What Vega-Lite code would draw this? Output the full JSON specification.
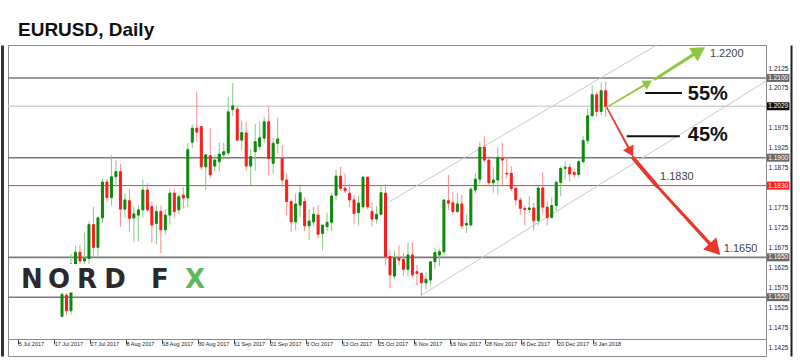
{
"$schema":"https://vega.github.io/schema/vega-lite/v6.json",
"width":758,"height":311,
"autosize":{"type":"none"},
"padding":{"left":8,"top":45,"right":34,"bottom":5},
"background":"#ffffff",
"title":{"text":"EURUSD, Daily","anchor":"start","frame":"group","fontSize":19,"font":"Liberation Sans","fontWeight":"bold","color":"#111111","offset":5,"dx":10},
"config":{"view":{"stroke":"#8a8a8a","strokeWidth":1},"axis":{"grid":false},"scale":{"continuousPadding":0},"font":"Liberation Sans"},
"datasets":{
"candles":[
{"date":"2017-07-18","i":9,"o":1.1502,"h":1.1565,"l":1.1500,"c":1.1557},
{"date":"2017-07-19","i":10,"o":1.1555,"h":1.1560,"l":1.1506,"c":1.1516},
{"date":"2017-07-20","i":11,"o":1.1516,"h":1.1658,"l":1.1506,"c":1.1633},
{"date":"2017-07-21","i":12,"o":1.1633,"h":1.1678,"l":1.1625,"c":1.1663},
{"date":"2017-07-24","i":13,"o":1.1663,"h":1.1682,"l":1.1624,"c":1.1641},
{"date":"2017-07-25","i":14,"o":1.1641,"h":1.1712,"l":1.1618,"c":1.1647},
{"date":"2017-07-26","i":15,"o":1.1647,"h":1.1740,"l":1.1634,"c":1.1732},
{"date":"2017-07-27","i":16,"o":1.1732,"h":1.1777,"l":1.1653,"c":1.1675},
{"date":"2017-07-28","i":17,"o":1.1675,"h":1.1752,"l":1.1650,"c":1.1749},
{"date":"2017-07-31","i":18,"o":1.1749,"h":1.1847,"l":1.1737,"c":1.1839},
{"date":"2017-08-01","i":19,"o":1.1839,"h":1.1846,"l":1.1789,"c":1.1800},
{"date":"2017-08-02","i":20,"o":1.1800,"h":1.1906,"l":1.1780,"c":1.1852},
{"date":"2017-08-03","i":21,"o":1.1852,"h":1.1893,"l":1.1826,"c":1.1865},
{"date":"2017-08-04","i":22,"o":1.1865,"h":1.1884,"l":1.1726,"c":1.1771},
{"date":"2017-08-07","i":23,"o":1.1771,"h":1.1810,"l":1.1750,"c":1.1794},
{"date":"2017-08-08","i":24,"o":1.1792,"h":1.1822,"l":1.1713,"c":1.1748},
{"date":"2017-08-09","i":25,"o":1.1749,"h":1.1778,"l":1.1688,"c":1.1759},
{"date":"2017-08-10","i":26,"o":1.1756,"h":1.1781,"l":1.1690,"c":1.1769},
{"date":"2017-08-11","i":27,"o":1.1769,"h":1.1845,"l":1.1750,"c":1.1819},
{"date":"2017-08-14","i":28,"o":1.1819,"h":1.1836,"l":1.1765,"c":1.1769},
{"date":"2017-08-15","i":29,"o":1.1777,"h":1.1790,"l":1.1686,"c":1.1731},
{"date":"2017-08-16","i":30,"o":1.1735,"h":1.1780,"l":1.1683,"c":1.1765},
{"date":"2017-08-17","i":31,"o":1.1765,"h":1.1780,"l":1.1661,"c":1.1719},
{"date":"2017-08-18","i":32,"o":1.1719,"h":1.1771,"l":1.1708,"c":1.1756},
{"date":"2017-08-21","i":33,"o":1.1756,"h":1.1823,"l":1.1732,"c":1.1811},
{"date":"2017-08-22","i":34,"o":1.1811,"h":1.1822,"l":1.1750,"c":1.1765},
{"date":"2017-08-23","i":35,"o":1.1769,"h":1.1810,"l":1.1758,"c":1.1802},
{"date":"2017-08-24","i":36,"o":1.1806,"h":1.1826,"l":1.1772,"c":1.1799},
{"date":"2017-08-25","i":37,"o":1.1799,"h":1.1937,"l":1.1776,"c":1.1920},
{"date":"2017-08-28","i":38,"o":1.1939,"h":1.1983,"l":1.1925,"c":1.1974},
{"date":"2017-08-29","i":39,"o":1.1974,"h":1.2066,"l":1.1940,"c":1.1964},
{"date":"2017-08-30","i":40,"o":1.1978,"h":1.1980,"l":1.1870,"c":1.1877},
{"date":"2017-08-31","i":41,"o":1.1877,"h":1.1910,"l":1.1819,"c":1.1907},
{"date":"2017-09-01","i":42,"o":1.1905,"h":1.1974,"l":1.1849,"c":1.1857},
{"date":"2017-09-04","i":43,"o":1.1879,"h":1.1907,"l":1.1866,"c":1.1894},
{"date":"2017-09-05","i":44,"o":1.1890,"h":1.1938,"l":1.1866,"c":1.1909},
{"date":"2017-09-06","i":45,"o":1.1907,"h":1.1937,"l":1.1895,"c":1.1915},
{"date":"2017-09-07","i":46,"o":1.1912,"h":1.2053,"l":1.1905,"c":1.2015},
{"date":"2017-09-08","i":47,"o":1.2021,"h":1.2087,"l":1.2004,"c":1.2030},
{"date":"2017-09-11","i":48,"o":1.2022,"h":1.2030,"l":1.1940,"c":1.1944},
{"date":"2017-09-12","i":49,"o":1.1944,"h":1.1993,"l":1.1919,"c":1.1963},
{"date":"2017-09-13","i":50,"o":1.1962,"h":1.1990,"l":1.1868,"c":1.1879},
{"date":"2017-09-14","i":51,"o":1.1879,"h":1.1922,"l":1.1831,"c":1.1903},
{"date":"2017-09-15","i":52,"o":1.1915,"h":1.1985,"l":1.1867,"c":1.1940},
{"date":"2017-09-18","i":53,"o":1.1928,"h":1.1990,"l":1.1919,"c":1.1950},
{"date":"2017-09-19","i":54,"o":1.1949,"h":1.2003,"l":1.1938,"c":1.1990},
{"date":"2017-09-20","i":55,"o":1.1990,"h":1.2028,"l":1.1857,"c":1.1898},
{"date":"2017-09-21","i":56,"o":1.1886,"h":1.1949,"l":1.1861,"c":1.1936},
{"date":"2017-09-22","i":57,"o":1.1936,"h":1.2000,"l":1.1910,"c":1.1947},
{"date":"2017-09-25","i":58,"o":1.1898,"h":1.1932,"l":1.1827,"c":1.1844},
{"date":"2017-09-26","i":59,"o":1.1844,"h":1.1860,"l":1.1756,"c":1.1790},
{"date":"2017-09-27","i":60,"o":1.1790,"h":1.1795,"l":1.1714,"c":1.1739},
{"date":"2017-09-28","i":61,"o":1.1739,"h":1.1810,"l":1.1718,"c":1.1784},
{"date":"2017-09-29","i":62,"o":1.1781,"h":1.1829,"l":1.1752,"c":1.1812},
{"date":"2017-10-02","i":63,"o":1.1790,"h":1.1800,"l":1.1716,"c":1.1729},
{"date":"2017-10-03","i":64,"o":1.1729,"h":1.1771,"l":1.1694,"c":1.1741},
{"date":"2017-10-04","i":65,"o":1.1739,"h":1.1777,"l":1.1729,"c":1.1758},
{"date":"2017-10-05","i":66,"o":1.1756,"h":1.1780,"l":1.1697,"c":1.1708},
{"date":"2017-10-06","i":67,"o":1.1710,"h":1.1731,"l":1.1668,"c":1.1731},
{"date":"2017-10-09","i":68,"o":1.1727,"h":1.1762,"l":1.1715,"c":1.1738},
{"date":"2017-10-10","i":69,"o":1.1738,"h":1.1810,"l":1.1716,"c":1.1804},
{"date":"2017-10-11","i":70,"o":1.1806,"h":1.1869,"l":1.1794,"c":1.1854},
{"date":"2017-10-12","i":71,"o":1.1854,"h":1.1877,"l":1.1817,"c":1.1823},
{"date":"2017-10-13","i":72,"o":1.1823,"h":1.1860,"l":1.1811,"c":1.1817},
{"date":"2017-10-16","i":73,"o":1.1811,"h":1.1835,"l":1.1776,"c":1.1794},
{"date":"2017-10-17","i":74,"o":1.1794,"h":1.1807,"l":1.1733,"c":1.1760},
{"date":"2017-10-18","i":75,"o":1.1762,"h":1.1804,"l":1.1730,"c":1.1786},
{"date":"2017-10-19","i":76,"o":1.1777,"h":1.1854,"l":1.1772,"c":1.1851},
{"date":"2017-10-20","i":77,"o":1.1851,"h":1.1852,"l":1.1771,"c":1.1777},
{"date":"2017-10-23","i":78,"o":1.1765,"h":1.1789,"l":1.1728,"c":1.1746},
{"date":"2017-10-24","i":79,"o":1.1746,"h":1.1779,"l":1.1735,"c":1.1758},
{"date":"2017-10-25","i":80,"o":1.1758,"h":1.1830,"l":1.1755,"c":1.1812},
{"date":"2017-10-26","i":81,"o":1.1811,"h":1.1834,"l":1.1630,"c":1.1652},
{"date":"2017-10-27","i":82,"o":1.1652,"h":1.1668,"l":1.1572,"c":1.1606},
{"date":"2017-10-30","i":83,"o":1.1603,"h":1.1667,"l":1.1595,"c":1.1648},
{"date":"2017-10-31","i":84,"o":1.1648,"h":1.1680,"l":1.1630,"c":1.1643},
{"date":"2017-11-01","i":85,"o":1.1645,"h":1.1660,"l":1.1604,"c":1.1620},
{"date":"2017-11-02","i":86,"o":1.1620,"h":1.1687,"l":1.1603,"c":1.1656},
{"date":"2017-11-03","i":87,"o":1.1656,"h":1.1687,"l":1.1600,"c":1.1606},
{"date":"2017-11-06","i":88,"o":1.1614,"h":1.1630,"l":1.1580,"c":1.1610},
{"date":"2017-11-07","i":89,"o":1.1610,"h":1.1612,"l":1.1551,"c":1.1586},
{"date":"2017-11-08","i":90,"o":1.1586,"h":1.1613,"l":1.1570,"c":1.1595},
{"date":"2017-11-09","i":91,"o":1.1593,"h":1.1640,"l":1.1580,"c":1.1639},
{"date":"2017-11-10","i":92,"o":1.1639,"h":1.1673,"l":1.1620,"c":1.1662},
{"date":"2017-11-13","i":93,"o":1.1656,"h":1.1672,"l":1.1628,"c":1.1664},
{"date":"2017-11-14","i":94,"o":1.1664,"h":1.1794,"l":1.1655,"c":1.1794},
{"date":"2017-11-15","i":95,"o":1.1792,"h":1.1857,"l":1.1769,"c":1.1786},
{"date":"2017-11-16","i":96,"o":1.1787,"h":1.1813,"l":1.1755,"c":1.1765},
{"date":"2017-11-17","i":97,"o":1.1765,"h":1.1811,"l":1.1760,"c":1.1784},
{"date":"2017-11-20","i":98,"o":1.1784,"h":1.1808,"l":1.1721,"c":1.1729},
{"date":"2017-11-21","i":99,"o":1.1731,"h":1.1759,"l":1.1711,"c":1.1735},
{"date":"2017-11-22","i":100,"o":1.1731,"h":1.1827,"l":1.1730,"c":1.1821},
{"date":"2017-11-23","i":101,"o":1.1819,"h":1.1860,"l":1.1810,"c":1.1846},
{"date":"2017-11-24","i":102,"o":1.1846,"h":1.1940,"l":1.1835,"c":1.1926},
{"date":"2017-11-27","i":103,"o":1.1926,"h":1.1954,"l":1.1889,"c":1.1894},
{"date":"2017-11-28","i":104,"o":1.1894,"h":1.1904,"l":1.1828,"c":1.1837},
{"date":"2017-11-29","i":105,"o":1.1837,"h":1.1876,"l":1.1812,"c":1.1844},
{"date":"2017-11-30","i":106,"o":1.1844,"h":1.1926,"l":1.1807,"c":1.1901},
{"date":"2017-12-01","i":107,"o":1.1898,"h":1.1938,"l":1.1831,"c":1.1894},
{"date":"2017-12-04","i":108,"o":1.1861,"h":1.1902,"l":1.1847,"c":1.1859},
{"date":"2017-12-05","i":109,"o":1.1861,"h":1.1879,"l":1.1816,"c":1.1823},
{"date":"2017-12-06","i":110,"o":1.1823,"h":1.1832,"l":1.1781,"c":1.1794},
{"date":"2017-12-07","i":111,"o":1.1794,"h":1.1800,"l":1.1757,"c":1.1773},
{"date":"2017-12-08","i":112,"o":1.1773,"h":1.1780,"l":1.1730,"c":1.1770},
{"date":"2017-12-11","i":113,"o":1.1770,"h":1.1803,"l":1.1760,"c":1.1774},
{"date":"2017-12-12","i":114,"o":1.1774,"h":1.1787,"l":1.1717,"c":1.1742},
{"date":"2017-12-13","i":115,"o":1.1742,"h":1.1828,"l":1.1730,"c":1.1824},
{"date":"2017-12-14","i":116,"o":1.1824,"h":1.1863,"l":1.1760,"c":1.1776},
{"date":"2017-12-15","i":117,"o":1.1776,"h":1.1790,"l":1.1729,"c":1.1750},
{"date":"2017-12-18","i":118,"o":1.1750,"h":1.1800,"l":1.1747,"c":1.1780},
{"date":"2017-12-19","i":119,"o":1.1780,"h":1.1844,"l":1.1767,"c":1.1838},
{"date":"2017-12-20","i":120,"o":1.1838,"h":1.1878,"l":1.1803,"c":1.1873},
{"date":"2017-12-21","i":121,"o":1.1873,"h":1.1891,"l":1.1845,"c":1.1876},
{"date":"2017-12-22","i":122,"o":1.1876,"h":1.1885,"l":1.1840,"c":1.1859},
{"date":"2017-12-26","i":123,"o":1.1863,"h":1.1873,"l":1.1850,"c":1.1858},
{"date":"2017-12-27","i":124,"o":1.1858,"h":1.1895,"l":1.1850,"c":1.1890},
{"date":"2017-12-28","i":125,"o":1.1890,"h":1.1955,"l":1.1885,"c":1.1943},
{"date":"2017-12-29","i":126,"o":1.1943,"h":1.2023,"l":1.1935,"c":1.2005},
{"date":"2018-01-02","i":127,"o":1.2005,"h":1.2081,"l":1.2004,"c":1.2058},
{"date":"2018-01-03","i":128,"o":1.2058,"h":1.2065,"l":1.2002,"c":1.2016},
{"date":"2018-01-04","i":129,"o":1.2016,"h":1.2088,"l":1.2006,"c":1.2068},
{"date":"2018-01-05","i":130,"o":1.2068,"h":1.2090,"l":1.2003,"c":1.2029}
],
"levels":[
{"p":1.2100,"kind":"level"},
{"p":1.2029,"kind":"current"},
{"p":1.1900,"kind":"level"},
{"p":1.1830,"kind":"target"},
{"p":1.1650,"kind":"level"},
{"p":1.1550,"kind":"level"}
],
"channels":[
{"ln":"upper","i":81.78,"p":1.17888},
{"ln":"upper","i":142.54,"p":1.21902},
{"ln":"lower","i":89.06,"p":1.15555},
{"ln":"lower","i":165.69,"p":1.20919}
],
"shafts":[
{"arrow":"g1","part":"t1","i":130.3,"p":1.2027},
{"arrow":"g1","part":"h1","i":138.87,"p":1.20839},
{"arrow":"g2","part":"t2","i":141.0,"p":1.2097},
{"arrow":"g2","part":"h2","i":149.95,"p":1.21616},
{"arrow":"r1","part":"t1","i":130.3,"p":1.2025},
{"arrow":"r1","part":"h1","i":135.22,"p":1.19223},
{"arrow":"rc","part":"c","i":136.12,"p":1.18992},
{"arrow":"rc","part":"c","i":141.43,"p":1.1829},
{"arrow":"r2","part":"t2","i":141.43,"p":1.1829},
{"arrow":"r2","part":"h2","i":153.55,"p":1.16797}
],
"heads":[
{"arrow":"g1","i":139.43,"p":1.20876},
{"arrow":"g2","i":150.82,"p":1.21677},
{"arrow":"r1","i":135.58,"p":1.19145},
{"arrow":"r2","i":154.33,"p":1.16702}
],
"notes":[
{"t":"1.2200","i":153.2,"p":1.2161,"kind":"price"},
{"t":"55%","i":148.3,"p":1.2060,"kind":"pct"},
{"t":"45%","i":148.3,"p":1.1957,"kind":"pct"},
{"t":"1.1830","i":142.1,"p":1.1852,"kind":"price"},
{"t":"1.1650","i":156.3,"p":1.1671,"kind":"price"}
],
"pointers":[
{"i":138.8,"i2":147.0,"p":1.2062},
{"i":134.7,"i2":146.5,"p":1.1954}
],
"logo":[
{"ch":"N","i":2.32,"p":1.1593},
{"ch":"O","i":8.33,"p":1.1593},
{"ch":"R","i":14.56,"p":1.1593},
{"ch":"D","i":20.8,"p":1.1593},
{"ch":"F","i":30.8,"p":1.1593},
{"ch":"X","i":38.6,"p":1.1593}
]
},
"resolve":{"axis":{"x":"independent","y":"independent"},"scale":{"color":"independent","size":"independent","strokeWidth":"independent"}},
"layer":[
{
"data":{"name":"levels"},
"mark":{"type":"rule"},
"encoding":{
"y":{"field":"p","type":"quantitative","scale":{"domain":[1.14025,1.21827],"nice":false,"zero":false,"padding":0},"axis":{"orient":"left","offset":6,"labels":false,"ticks":false,"title":null,"domainColor":"#333333","domainWidth":3}},
"color":{"field":"kind","type":"nominal","scale":{"domain":["level","current","target"],"range":["#7a7a7a","#d2d2d2","#ff3333"]},"legend":null},
"strokeWidth":{"field":"kind","type":"nominal","scale":{"domain":["level","current","target"],"range":[1.6,1,2]},"legend":null}
}
},
{
"data":{"name":"channels"},
"mark":{"type":"line","clip":true,"color":"#c8c8c8","strokeWidth":1},
"encoding":{
"x":{"field":"i","type":"quantitative","axis":null},
"y":{"field":"p","type":"quantitative","axis":null},
"detail":{"field":"ln"}
}
},
{
"data":{"name":"candles"},
"mark":{"type":"rule","strokeWidth":1},
"encoding":{
"x":{"field":"i","type":"quantitative","axis":null},
"y":{"field":"l","type":"quantitative","axis":null},
"y2":{"field":"h"},
"color":{"condition":{"test":"datum.c >= datum.o","value":"#86c986"},"value":"#ff8a8a"}
}
},
{
"data":{"name":"candles"},
"mark":{"type":"bar","width":2,"strokeWidth":1},
"encoding":{
"x":{"field":"i","type":"quantitative","scale":{"domain":[-3.019,165.69],"nice":false,"zero":false,"padding":0},
"axis":{"orient":"bottom","offset":-17,"values":[-0.75,7.25,15.25,23.25,31.25,39.25,47.25,55.25,63.25,71.25,79.25,87.25,95.25,103.25,111.25,119.25,127.25],
"labelExpr":"['5 Jul 2017','17 Jul 2017','27 Jul 2017','8 Aug 2017','18 Aug 2017','30 Aug 2017','11 Sep 2017','21 Sep 2017','3 Oct 2017','13 Oct 2017','25 Oct 2017','6 Nov 2017','16 Nov 2017','28 Nov 2017','8 Dec 2017','20 Dec 2017','3 Jan 2018'][round((datum.value+0.75)/8)]",
"labelAlign":"left","labelBaseline":"top","labelDx":2,"labelPadding":-3,"labelFontSize":5.5,"labelColor":"#222222","labelOverlap":false,"labelBound":false,"labelFlush":false,"tickSize":5,"tickColor":"#444444","domainColor":"#8a8a8a","title":null}},
"y":{"field":"o","type":"quantitative","scale":{"domain":[1.14025,1.21827],"nice":false,"zero":false,"padding":0},
"axis":{"orient":"right","offset":25,"values":[1.1425,1.1475,1.1525,1.1575,1.1625,1.1675,1.1725,1.1775,1.1875,1.1925,1.1975,1.2075,1.2125],"format":".4f","labelFontSize":6.5,"labelColor":"#222222","labelPadding":-23,"labelAlign":"left","labelBaseline":"middle","ticks":false,"tickSize":0,"domainColor":"#222222","domainWidth":2,"labelOverlap":false,"labelBound":false,"labelFlush":false,"title":null}},
"y2":{"field":"c"},
"fill":{"condition":{"test":"datum.c >= datum.o","value":"#0b8a0b"},"value":"#ff1a1a"},
"stroke":{"condition":{"test":"datum.c >= datum.o","value":"#0b8a0b"},"value":"#ff1a1a"}
}
},
{
"data":{"values":[{"box":"logo"}]},
"mark":{"type":"rect","color":"#ffffff"},
"encoding":{
"x":{"datum":-0.9,"type":"quantitative","axis":null},
"x2":{"datum":43},
"y":{"datum":1.1633,"type":"quantitative","axis":null},
"y2":{"datum":1.1562}
}
},
{
"data":{"name":"logo"},
"mark":{"type":"text","font":"DejaVu Sans","fontWeight":"bold","fontSize":26,"align":"center","baseline":"middle"},
"encoding":{
"x":{"field":"i","type":"quantitative","axis":null},
"y":{"field":"p","type":"quantitative","axis":null},
"text":{"field":"ch"},
"color":{"condition":{"test":"datum.ch === 'X'","value":"#5fb760"},"value":"#2a2a2e"}
}
},
{
"data":{"name":"levels"},
"mark":{"type":"bar","orient":"horizontal","height":8},
"encoding":{
"x":{"datum":165.9,"type":"quantitative","axis":null},
"x2":{"datum":170.9},
"y":{"field":"p","type":"quantitative","axis":null},
"color":{"field":"kind","type":"nominal","scale":{"domain":["level","current","target"],"range":["#6a6a6a","#111111","#ff1f1f"]},"legend":null}
}
},
{
"data":{"name":"levels"},
"mark":{"type":"text","fontSize":6.5,"align":"center","baseline":"middle","color":"#ffffff"},
"encoding":{
"x":{"datum":168.4,"type":"quantitative","axis":null},
"y":{"field":"p","type":"quantitative","axis":null},
"text":{"field":"p","type":"quantitative","format":".4f"}
}
},
{
"data":{"name":"pointers"},
"mark":{"type":"rule","color":"#111111","strokeWidth":2},
"encoding":{
"x":{"field":"i","type":"quantitative","axis":null},
"x2":{"field":"i2"},
"y":{"field":"p","type":"quantitative","axis":null}
}
},
{
"data":{"name":"shafts"},
"mark":{"type":"trail"},
"encoding":{
"x":{"field":"i","type":"quantitative","axis":null},
"y":{"field":"p","type":"quantitative","axis":null},
"detail":{"field":"arrow"},
"color":{"condition":{"test":"datum.arrow[0] === 'g'","value":"#8dc63f"},"value":"#e8372c"},
"size":{"field":"part","type":"nominal","scale":{"domain":["t1","h1","t2","h2","c"],"range":[1.5,4,2.5,6.5,1]},"legend":null}
}
},
{
"data":{"name":"heads"},
"transform":[{"filter":"datum.arrow === 'g1'"}],
"mark":{"type":"point","shape":"triangle-up","filled":true,"opacity":1,"color":"#8dc63f","size":110,"angle":59.6},
"encoding":{"x":{"field":"i","type":"quantitative","axis":null},"y":{"field":"p","type":"quantitative","axis":null}}
},
{
"data":{"name":"heads"},
"transform":[{"filter":"datum.arrow === 'g2'"}],
"mark":{"type":"point","shape":"triangle-up","filled":true,"opacity":1,"color":"#8dc63f","size":256,"angle":57.6},
"encoding":{"x":{"field":"i","type":"quantitative","axis":null},"y":{"field":"p","type":"quantitative","axis":null}}
},
{
"data":{"name":"heads"},
"transform":[{"filter":"datum.arrow === 'r1'"}],
"mark":{"type":"point","shape":"triangle-up","filled":true,"opacity":1,"color":"#e8372c","size":144,"angle":151.6},
"encoding":{"x":{"field":"i","type":"quantitative","axis":null},"y":{"field":"p","type":"quantitative","axis":null}}
},
{
"data":{"name":"heads"},
"transform":[{"filter":"datum.arrow === 'r2'"}],
"mark":{"type":"point","shape":"triangle-up","filled":true,"opacity":1,"color":"#e8372c","size":324,"angle":137.5},
"encoding":{"x":{"field":"i","type":"quantitative","axis":null},"y":{"field":"p","type":"quantitative","axis":null}}
},
{
"data":{"name":"notes"},
"transform":[{"filter":"datum.kind === 'pct'"}],
"mark":{"type":"text","fontSize":20,"fontWeight":"bold","font":"Liberation Sans","align":"left","baseline":"middle","color":"#111111"},
"encoding":{"x":{"field":"i","type":"quantitative","axis":null},"y":{"field":"p","type":"quantitative","axis":null},"text":{"field":"t"}}
},
{
"data":{"name":"notes"},
"transform":[{"filter":"datum.kind === 'price'"}],
"mark":{"type":"text","fontSize":11,"font":"Liberation Sans","align":"left","baseline":"middle","color":"#444444"},
"encoding":{"x":{"field":"i","type":"quantitative","axis":null},"y":{"field":"p","type":"quantitative","axis":null},"text":{"field":"t"}}
}
]
}
